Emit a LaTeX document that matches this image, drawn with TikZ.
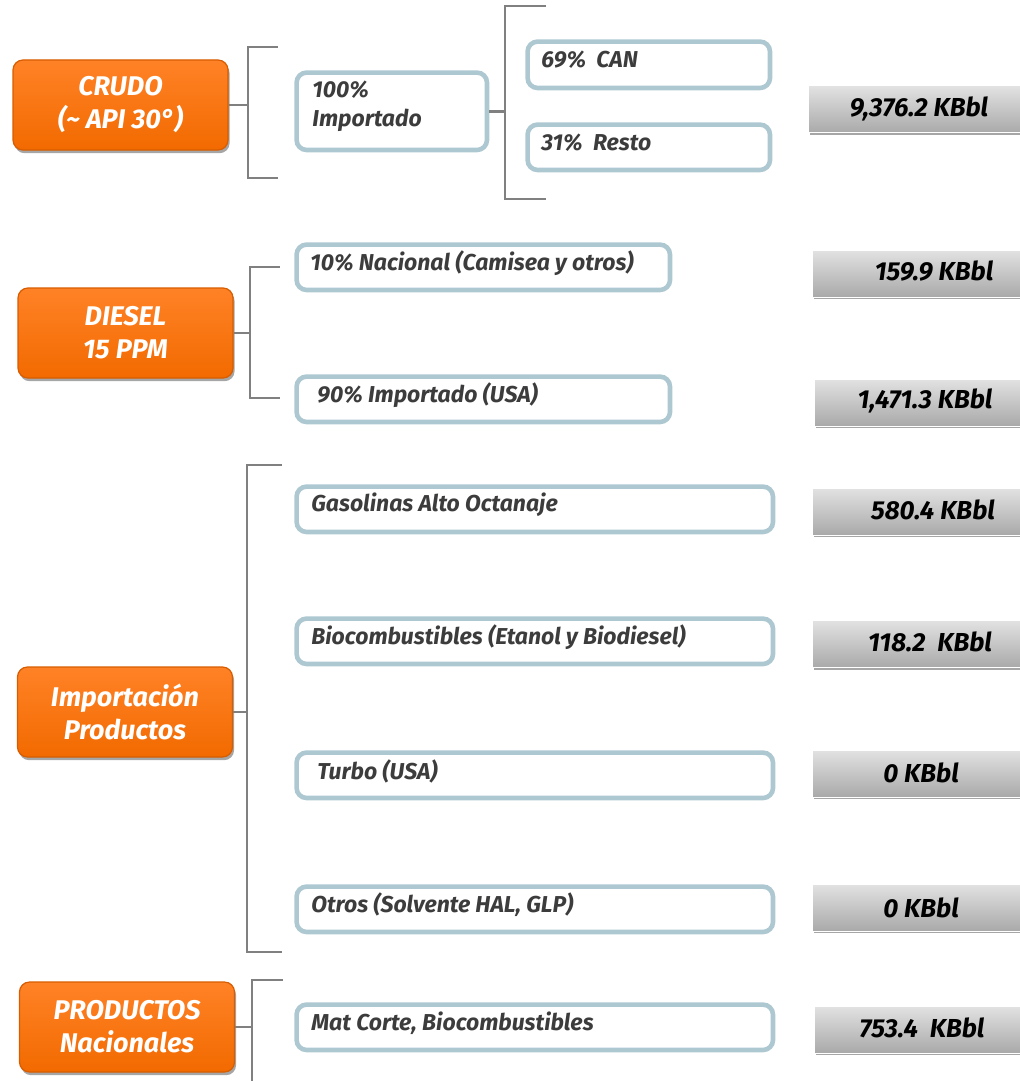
\documentclass[tikz,border=0pt]{standalone}
\usepackage{fontspec}
\setmainfont{Fira Sans}
\usetikzlibrary{shadows}
\definecolor{orgtop}{HTML}{FF8226}
\definecolor{orgbot}{HTML}{F26A00}
\definecolor{orgdark}{HTML}{D85C00}
\definecolor{bluegray}{HTML}{AEC8D2}
\definecolor{txtgray}{HTML}{3C3C3C}
\definecolor{brgray}{HTML}{808080}
\definecolor{valtop}{HTML}{E2E2E2}
\definecolor{valbot}{HTML}{A9A9A9}
\begin{document}
\begin{tikzpicture}[x=0.5pt,y=-0.5pt,
  orangebox/.style={rounded corners=5pt, draw=orgdark, line width=0.6pt,
    top color=orgtop, bottom color=orgbot, minimum width=107.5pt, minimum height=45pt,
    text=white, font=\fontsize{13.5}{16.5}\selectfont\bfseries\itshape, align=center,
    drop shadow={shadow xshift=0.8pt, shadow yshift=-1.6pt, opacity=0.35, fill=black}},
  bluebox/.style={draw=bluegray, line width=2.3pt, rounded corners=5pt, fill=white,
    anchor=north west, inner sep=0pt},
  btext/.style={anchor=west, text=txtgray, font=\fontsize{11.5}{14.5}\selectfont\bfseries\itshape,
    align=left, inner sep=0pt},
  valbox/.style={anchor=west, top color=valtop, bottom color=valbot, draw=white, line width=0.5pt,
    minimum width=140pt, minimum height=23.5pt, inner sep=0pt,
    drop shadow={shadow xshift=0.6pt, shadow yshift=-1.2pt, opacity=0.35, fill=black}},
  vtext/.style={font=\fontsize{13}{15}\selectfont\bfseries\itshape, text=black, inner sep=0pt},
  brk/.style={draw=brgray, line width=1.3pt}
]
\useasboundingbox (0,0) rectangle (1020,1081);
\clip (0,0) rectangle (1020,1081);

% ---------- orange boxes
\node[orangebox] (crudo) at (120.5,105) {CRUDO\\(\textasciitilde{} API 30°)};
\node[orangebox] (diesel) at (125.5,333) {DIESEL\\15 PPM};
\node[orangebox] (impprod) at (125,712) {Importación\\Productos};
\node[orangebox] (prodnac) at (127,1027) {PRODUCTOS\\Nacionales};

% ---------- blue boxes
\node[bluebox, minimum width=95.2pt, minimum height=38.7pt] (imp100) at (294.3,70.3) {};
\node[bluebox, minimum width=121.2pt, minimum height=23.2pt] (can) at (525.3,39.3) {};
\node[bluebox, minimum width=121.2pt, minimum height=22.7pt] (resto) at (525.3,122.3) {};
\node[bluebox, minimum width=186.7pt, minimum height=22.7pt] (nac) at (294.3,242.3) {};
\node[bluebox, minimum width=186.7pt, minimum height=22.7pt] (impusa) at (294.3,374.3) {};
\node[bluebox, minimum width=238.2pt, minimum height=22.7pt] (gas) at (294.3,484.3) {};
\node[bluebox, minimum width=238.2pt, minimum height=22.7pt] (bio) at (294.3,616.3) {};
\node[bluebox, minimum width=238.2pt, minimum height=22.7pt] (turbo) at (294.3,750.3) {};
\node[bluebox, minimum width=238.2pt, minimum height=22.7pt] (otros) at (294.3,884.3) {};
\node[bluebox, minimum width=238.2pt, minimum height=22.7pt] (mat) at (294.3,1002.3) {};

\node[btext] (imp100T) at (312,106.5) {100\%\\Importado};
\node[btext] (canT) at (541,60) {69\%\ \ CAN};
\node[btext] (restoT) at (541,143) {31\%\ \ Resto};
\node[btext] (nacT) at (310,263) {10\% Nacional (Camisea y otros)};
\node[btext] (impusaT) at (317,395) {90\% Importado (USA)};
\node[btext] (gasT) at (311,505) {Gasolinas Alto Octanaje};
\node[btext] (bioT) at (311,637) {Biocombustibles (Etanol y Biodiesel)};
\node[btext] (turboT) at (317,771) {Turbo (USA)};
\node[btext] (otrosT) at (311,905) {Otros (Solvente HAL, GLP)};
\node[btext] (matT) at (311,1023) {Mat Corte, Biocombustibles};

% ---------- value boxes
\node[valbox] (v1) at (808,109.5) {};
\node[valbox] (v2) at (812,273.5) {};
\node[valbox] (v3) at (814,402.5) {};
\node[valbox] (v4) at (812,511.5) {};
\node[valbox] (v5) at (812,644) {};
\node[valbox] (v6) at (812,773.5) {};
\node[valbox] (v7) at (812,907.5) {};
\node[valbox] (v8) at (814,1029.5) {};

\node[vtext] (v1T) at (919,109) {9,376.2 KBbl};
\node[vtext] (v2T) at (934,271) {159.9 KBbl};
\node[vtext] (v3T) at (925,401) {1,471.3 KBbl};
\node[vtext] (v4T) at (933,510) {580.4 KBbl};
\node[vtext] (v5T) at (930,642) {118.2\ \ KBbl};
\node[vtext] (v6T) at (921,773) {0 KBbl};
\node[vtext] (v7T) at (921,908) {0 KBbl};
\node[vtext] (v8T) at (922,1028) {753.4\ \ KBbl};

% ---------- brackets
\coordinate (b1t) at (248,47);  \coordinate (b1b) at (248,178);
\draw[brk] (crudo.east) -- (crudo.east -| b1t);
\draw[brk] ([xshift=15pt]b1t) -- (b1t) -- (b1b) -- ([xshift=15pt]b1b);

\coordinate (b2t) at (505,6);  \coordinate (b2b) at (505,199);
\draw[brk] (imp100.east) -- (imp100.east -| b2t);
\draw[brk] ([xshift=20.5pt]b2t) -- (b2t) -- (b2b) -- ([xshift=20.5pt]b2b);

\coordinate (b3t) at (250,267);  \coordinate (b3b) at (250,398);
\draw[brk] (diesel.east) -- (diesel.east -| b3t);
\draw[brk] ([xshift=15pt]b3t) -- (b3t) -- (b3b) -- ([xshift=15pt]b3b);

\coordinate (b4t) at (247,465);  \coordinate (b4b) at (247,952);
\draw[brk] (impprod.east) -- (impprod.east -| b4t);
\draw[brk] ([xshift=17.5pt]b4t) -- (b4t) -- (b4b) -- ([xshift=17.5pt]b4b);

\coordinate (b5t) at (252,980);  \coordinate (b5b) at (252,1090);
\draw[brk] (prodnac.east) -- (prodnac.east -| b5t);
\draw[brk] ([xshift=15.5pt]b5t) -- (b5t) -- (b5b);
\end{tikzpicture}
\end{document}
